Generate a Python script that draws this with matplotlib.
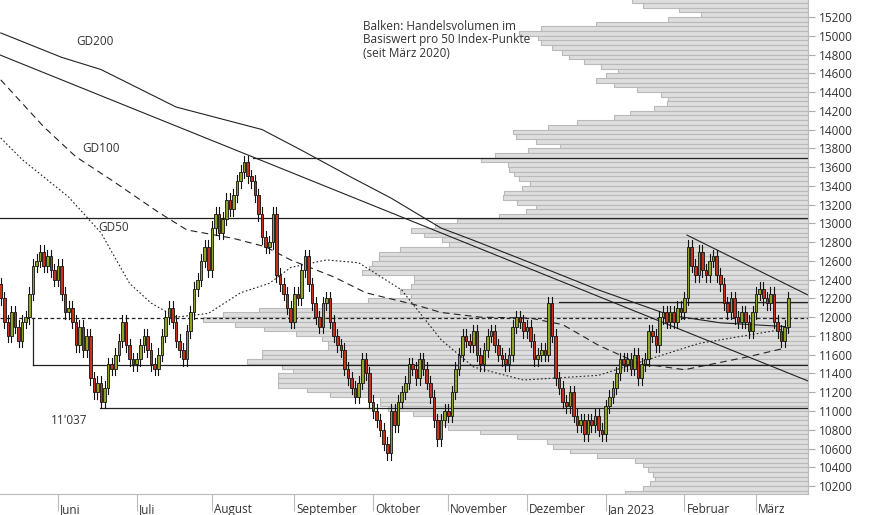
import numpy as np
import pandas as pd
import matplotlib
matplotlib.use("Agg")
import matplotlib.pyplot as plt
from matplotlib.patches import Rectangle
import matplotlib.transforms as mt

plt.rcParams['font.family'] = ['Open Sans', 'DejaVu Sans']

# ---------------- data ----------------
closes_may = [12200, 11950, 11800, 12050, 11900, 11750, 11950, 12000, 12250, 12550, 12600, 12700, 12550, 12650, 12500, 12400]
closes_jun = [12550, 12250, 12050, 12100, 11950, 11700, 11900, 11650, 11800, 11350, 11200, 11300, 11100, 11250, 11500, 11450, 11600, 11750, 11950, 11700, 11550, 11500]
closes_jul = [11550, 11700, 11800, 11650, 11500, 11450, 11600, 11800, 12000, 12100, 11950, 11750, 11650, 11550, 11850, 12050, 12300, 12400, 12600, 12750, 12500]
closes_aug = [12950, 13100, 12900, 13050, 13250, 13150, 13300, 13450, 13550, 13650, 13500, 13450, 13300, 13100, 12850, 12750, 12800, 13100, 12450, 12350, 12250, 12100, 11950]
closes_sep = [12250, 12200, 12500, 12650, 12350, 12150, 12000, 11900, 12150, 12200, 11950, 11800, 11700, 11650, 11450, 11350, 11250, 11150, 11300, 11550, 11400, 11100]
closes_oct = [11000, 10900, 10800, 10650, 10550, 11000, 10850, 11100, 11200, 11300, 11500, 11450, 11350, 11550, 11450, 11300, 11150, 10900, 10700, 10900, 11000]
closes_nov = [10950, 11200, 11450, 11600, 11800, 11750, 11700, 11850, 11600, 11500, 11650, 11800, 11850, 11700, 11600, 11550, 11500, 11600, 11900, 12000, 11950, 11850]
closes_dec = [11900, 11750, 11550, 11600, 11650, 11600, 12150, 11800, 11350, 11250, 11100, 11050, 11200, 10950, 10850, 10900, 10750, 10900, 10850, 10950, 10800, 10750]
closes_jan = [11050, 11150, 11250, 11400, 11550, 11500, 11550, 11450, 11600, 11350, 11500, 11550, 11850, 11800, 11700, 12000, 12050, 11950, 12050, 11950, 12100, 12050]
closes_feb = [12200, 12750, 12550, 12450, 12700, 12500, 12450, 12600, 12650, 12450, 12350, 12150, 12050, 12200, 12000, 11950, 12050, 11950, 11850, 12050]
closes_mar = [12250, 12300, 12200, 12150, 12250, 11950, 11850, 11750, 11900, 12200]
first_open = 12350

month_labels = ["Juni", "Juli", "August", "September", "Oktober", "November", "Dezember", "Jan 2023", "Februar", "März"]

# moving averages (trading-day index, value)
gd200_x = [0, 17, 28, 49, 73, 84, 98, 109, 123, 132, 148, 167, 187, 201, 219]
gd200_y = [15030, 14770, 14640, 14240, 14000, 13780, 13490, 13270, 12950, 12820, 12580, 12290, 12020, 11940, 11900]
gd100_x = [0, 12, 21, 31, 44, 52, 65, 74, 81, 93, 102, 116, 123, 134, 148, 157, 167, 178, 191, 209, 219]
gd100_y = [14530, 14030, 13710, 13460, 13120, 12930, 12840, 12750, 12610, 12430, 12260, 12130, 12050, 12000, 11990, 11920, 11700, 11510, 11440, 11580, 11670]
gd50_x = [0, 6, 19, 28, 36, 42, 49, 58, 67, 75, 81, 91, 100, 112, 123, 132, 146, 167, 181, 195, 220]
gd50_y = [13910, 13680, 13280, 12900, 12360, 12150, 12000, 12040, 12260, 12360, 12530, 12610, 12580, 12290, 11760, 11470, 11330, 11380, 11550, 11720, 11880]

# volume profile (bin lower edge, relative volume) per 50 index points
vol_bins = list(range(15350, 10050, -50))
vol_vals = [176, 165, 129, 107, 140, 212, 267, 289, 270, 267, 256, 246, 239, 224, 207, 190, 202, 212, 194, 171,
            147, 140, 141, 154, 178, 194, 231, 260, 295, 292, 272, 248, 280, 313, 327, 300, 299, 294, 289, 278,
            286, 304, 305, 291, 272, 282, 309, 351, 373, 397, 384, 366, 359, 408, 429, 429, 436, 439, 446, 394,
            394, 397, 408, 397, 440, 485, 549, 585, 605, 573, 544, 512, 486, 480, 480, 546, 546, 561, 526, 515,
            530, 530, 530, 501, 478, 428, 428, 420, 395, 375, 367, 360, 328, 291, 261, 255, 238, 211, 173, 165,
            160, 155, 153, 158, 165, 183]

# reference lines
trend_long = [(-0.2, 14795), (225.5, 11320)]
trend_feb = [(191.7, 12875), (225.5, 12236)]
hlines = [(70.5, 13700), (-0.2, 13057), (156, 12160), (9, 11490), (27.7, 11037)]
dashed_level = 11990

# ---------------- build ----------------
closes = (closes_may + closes_jun + closes_jul + closes_aug + closes_sep + closes_oct +
          closes_nov + closes_dec + closes_jan + closes_feb + closes_mar)
n = len(closes)
dates = pd.bdate_range('2022-05-10', periods=n)
opens = [first_open] + closes[:-1]

W, H = 874, 515
fig = plt.figure(figsize=(W / 100, H / 100), dpi=100)
ax = fig.add_axes([0, 21 / H, 808 / W, 1 - 21 / H])
XMIN, XMAX = -0.2, 225.5
YMIN, YMAX = 10115, 15381

axv = ax.twiny()
axv.set_xlim(808, 0)
for b, v in zip(vol_bins, vol_vals):
    axv.add_patch(Rectangle((0, b), v, 50, facecolor='#dedede', edgecolor='#b9b9b9', lw=0.8, zorder=1))
axv.set_xticks([])
for s in axv.spines.values():
    s.set_visible(False)
ax.set_zorder(axv.get_zorder() + 1)
ax.patch.set_visible(False)

c = '#222222'
ax.plot([p[0] for p in trend_long], [p[1] for p in trend_long], color=c, lw=0.8)
ax.plot([p[0] for p in trend_feb], [p[1] for p in trend_feb], color=c, lw=0.8)
for x0, yv in hlines:
    ax.plot([x0, XMAX], [yv, yv], color=c, lw=0.9)
ax.plot([9, 9], [11490, 11990], color=c, lw=0.9)
ax.axhline(dashed_level, color=c, lw=0.9, ls=(0, (3, 2)))
ax.plot(gd200_x, gd200_y, color=c, lw=0.8)
ax.plot(gd100_x, gd100_y, color=c, lw=0.8, ls=(0, (6, 4)))
ax.plot(gd50_x, gd50_y, color=c, lw=0.8, ls=(0, (1.5, 2)))

green, red = '#8fa522', '#c0331f'
for i, (o, cl) in enumerate(zip(opens, closes)):
    hi = max(o, cl) + 70
    lo = min(o, cl) - 70
    ax.plot([i, i], [lo, hi], color='#111111', lw=0.8, zorder=3)
    col = green if cl >= o else red
    body = max(abs(cl - o), 15)
    ax.add_patch(Rectangle((i - 0.36, min(o, cl)), 0.72, body, facecolor=col,
                           edgecolor='#111111', lw=0.6, zorder=4))

ax.set_xlim(XMIN, XMAX)
ax.set_ylim(YMIN, YMAX)
axv.set_ylim(YMIN, YMAX)

ax.yaxis.tick_right()
ax.set_yticks(range(10200, 15201, 200))
ax.set_yticklabels([f"{v}" for v in range(10200, 15201, 200)], fontsize=8.5, color='#333333')
ax.tick_params(axis='y', length=5, color='#aaaaaa', pad=3)
mpos = [i for i in range(1, n) if dates[i].month != dates[i - 1].month]
ax.set_xticks(mpos)
ax.set_xticklabels(month_labels[:len(mpos)], fontsize=8.5, color='#333333', ha='left', va='center')
ax.tick_params(axis='x', length=12, color='#bbbbbb', pad=-1)
for lbl in ax.get_xticklabels():
    lbl.set_transform(lbl.get_transform() + mt.ScaledTranslation(2 / 100, 0, fig.dpi_scale_trans))
for s in ['top', 'left']:
    ax.spines[s].set_visible(False)
ax.spines['bottom'].set_color('#bbbbbb')
ax.spines['right'].set_color('#bbbbbb')

tc = '#333333'
ax.text(0.094, 0.908, "GD200", transform=ax.transAxes, fontsize=8.5, color=tc)
ax.text(0.102, 0.692, "GD100", transform=ax.transAxes, fontsize=8.5, color=tc)
ax.text(0.121, 0.532, "GD50", transform=ax.transAxes, fontsize=8.5, color=tc)
ax.text(14, 10900, "11'037", fontsize=8.5, color=tc, va='center')
ax.text(0.449, 0.96, "Balken: Handelsvolumen im\nBasiswert pro 50 Index-Punkte\n(seit März 2020)",
        transform=ax.transAxes, fontsize=8.5, color=tc, va='top', linespacing=1.05)

fig.savefig('out.png', dpi=100)
